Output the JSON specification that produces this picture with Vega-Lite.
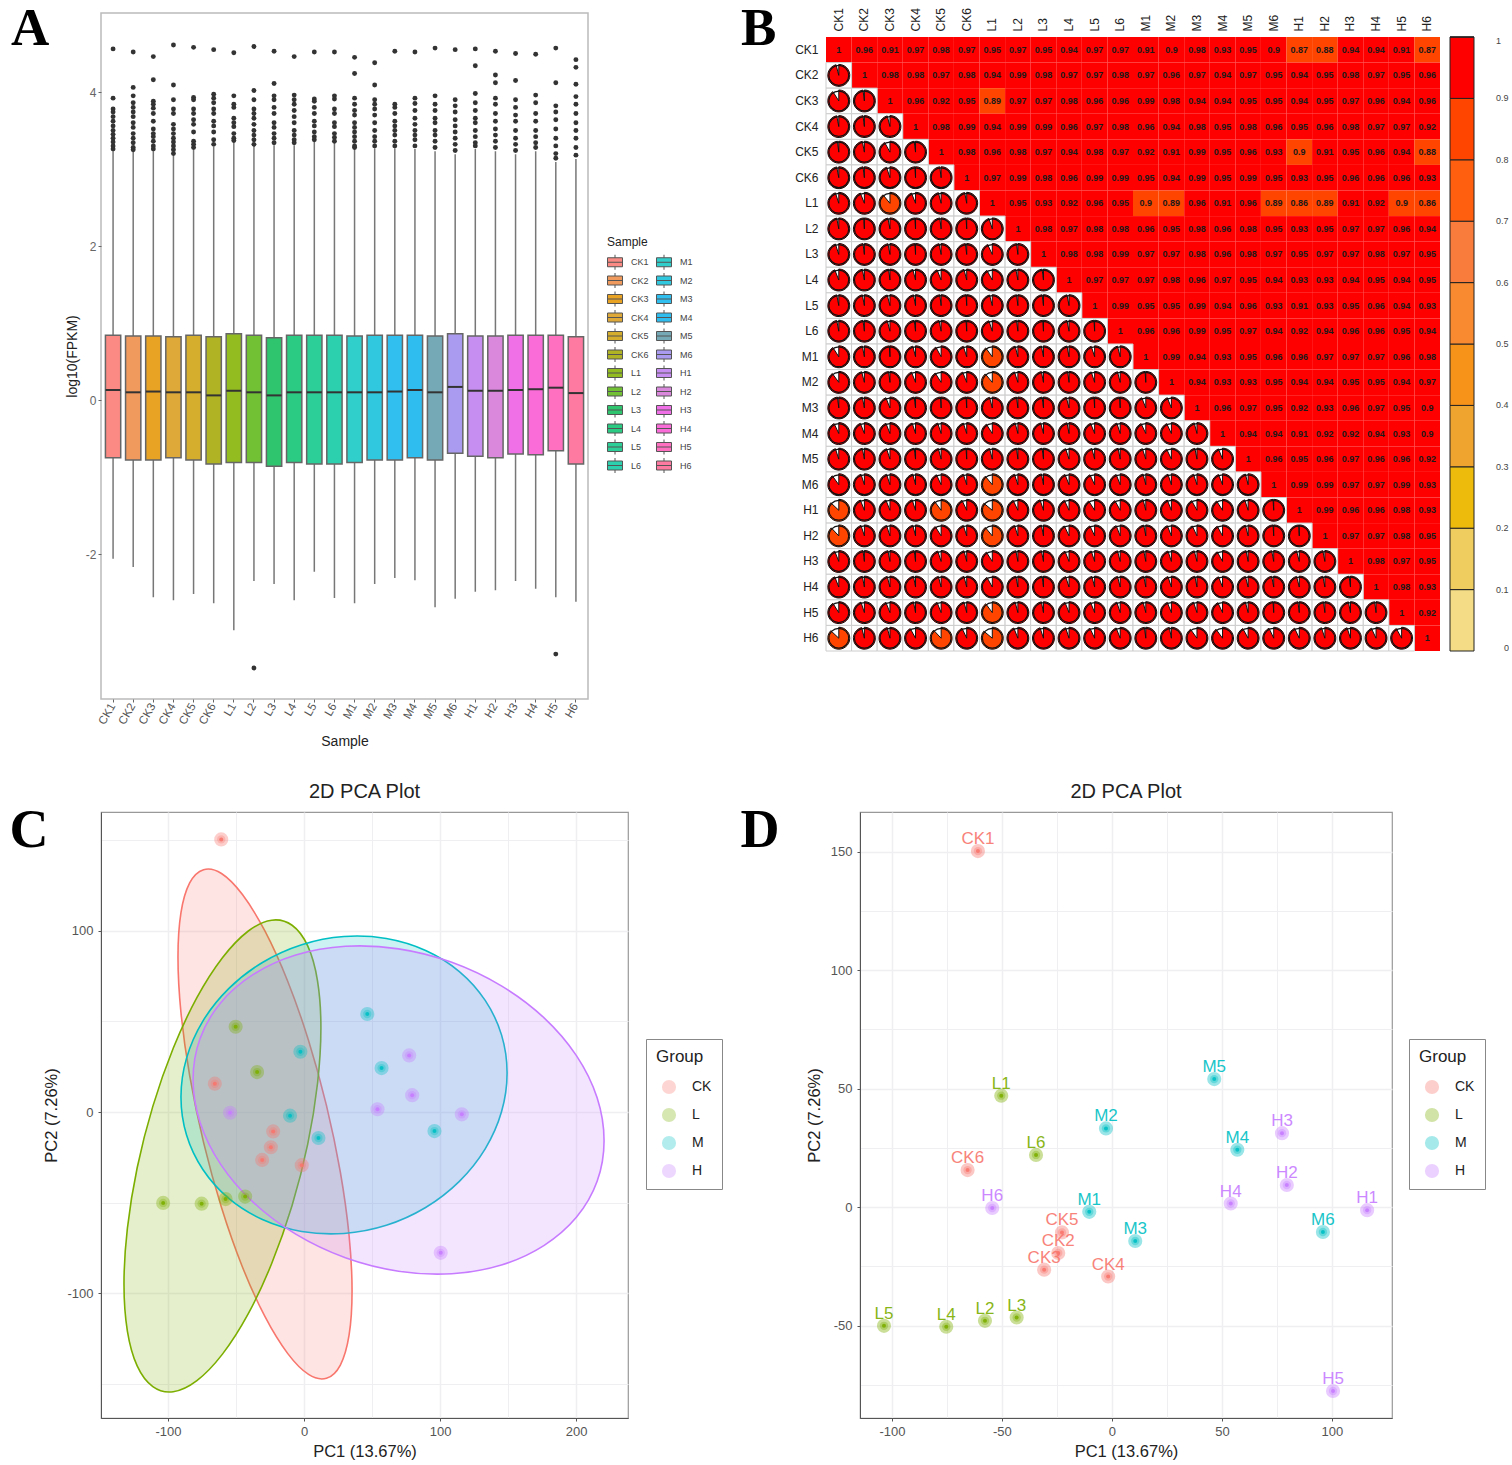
{"$schema":"https://vega.github.io/schema/vega-lite/v6.json","padding":{"left":8,"top":2,"right":0,"bottom":0},"background":"white","config":{"font":"Liberation Sans","view":{"stroke":null}},"spacing":32,"bounds":"full","resolve":{"scale":{"color":"independent"},"legend":{"color":"independent"}},"datasets":{"box":[{"s":"CK1","lo":-2.06,"q1":-0.75,"m":0.13,"q3":0.84,"hi":3.23},{"s":"CK2","lo":-2.17,"q1":-0.78,"m":0.10,"q3":0.83,"hi":3.22},{"s":"CK3","lo":-2.56,"q1":-0.78,"m":0.11,"q3":0.83,"hi":3.23},{"s":"CK4","lo":-2.60,"q1":-0.75,"m":0.10,"q3":0.82,"hi":3.18},{"s":"CK5","lo":-2.52,"q1":-0.78,"m":0.10,"q3":0.84,"hi":3.25},{"s":"CK6","lo":-2.64,"q1":-0.83,"m":0.06,"q3":0.82,"hi":3.29},{"s":"L1","lo":-2.99,"q1":-0.81,"m":0.12,"q3":0.86,"hi":3.35},{"s":"L2","lo":-2.35,"q1":-0.81,"m":0.10,"q3":0.84,"hi":3.30},{"s":"L3","lo":-2.39,"q1":-0.86,"m":0.06,"q3":0.81,"hi":3.31},{"s":"L4","lo":-2.60,"q1":-0.81,"m":0.10,"q3":0.84,"hi":3.31},{"s":"L5","lo":-2.23,"q1":-0.83,"m":0.10,"q3":0.84,"hi":3.35},{"s":"L6","lo":-2.57,"q1":-0.83,"m":0.10,"q3":0.84,"hi":3.35},{"s":"M1","lo":-2.64,"q1":-0.81,"m":0.10,"q3":0.83,"hi":3.26},{"s":"M2","lo":-2.39,"q1":-0.78,"m":0.10,"q3":0.84,"hi":3.27},{"s":"M3","lo":-2.31,"q1":-0.78,"m":0.11,"q3":0.84,"hi":3.27},{"s":"M4","lo":-2.34,"q1":-0.75,"m":0.13,"q3":0.84,"hi":3.26},{"s":"M5","lo":-2.69,"q1":-0.78,"m":0.10,"q3":0.83,"hi":3.23},{"s":"M6","lo":-2.58,"q1":-0.69,"m":0.17,"q3":0.86,"hi":3.19},{"s":"H1","lo":-2.49,"q1":-0.73,"m":0.12,"q3":0.83,"hi":3.26},{"s":"H2","lo":-2.47,"q1":-0.75,"m":0.12,"q3":0.83,"hi":3.23},{"s":"H3","lo":-2.35,"q1":-0.70,"m":0.13,"q3":0.84,"hi":3.19},{"s":"H4","lo":-2.45,"q1":-0.71,"m":0.14,"q3":0.84,"hi":3.23},{"s":"H5","lo":-2.56,"q1":-0.66,"m":0.16,"q3":0.84,"hi":3.09},{"s":"H6","lo":-2.62,"q1":-0.83,"m":0.09,"q3":0.82,"hi":3.13}],
"out":[{"s":"CK1","v":4.56},{"s":"CK1","v":3.92},{"s":"CK1","v":3.78},{"s":"CK1","v":3.74},{"s":"CK1","v":3.68},{"s":"CK1","v":3.62},{"s":"CK1","v":3.56},{"s":"CK1","v":3.5},{"s":"CK1","v":3.45},{"s":"CK1","v":3.4},{"s":"CK1","v":3.35},{"s":"CK1","v":3.3},{"s":"CK1","v":3.26},
{"s":"CK2","v":4.52},{"s":"CK2","v":4.06},{"s":"CK2","v":3.95},{"s":"CK2","v":3.86},{"s":"CK2","v":3.8},{"s":"CK2","v":3.74},{"s":"CK2","v":3.68},{"s":"CK2","v":3.6},{"s":"CK2","v":3.54},{"s":"CK2","v":3.46},{"s":"CK2","v":3.4},{"s":"CK2","v":3.34},{"s":"CK2","v":3.28},{"s":"CK2","v":3.25},
{"s":"CK3","v":4.46},{"s":"CK3","v":4.16},{"s":"CK3","v":3.88},{"s":"CK3","v":3.84},{"s":"CK3","v":3.79},{"s":"CK3","v":3.72},{"s":"CK3","v":3.62},{"s":"CK3","v":3.52},{"s":"CK3","v":3.46},{"s":"CK3","v":3.42},{"s":"CK3","v":3.36},{"s":"CK3","v":3.3},{"s":"CK3","v":3.26},
{"s":"CK4","v":4.61},{"s":"CK4","v":4.09},{"s":"CK4","v":3.9},{"s":"CK4","v":3.78},{"s":"CK4","v":3.72},{"s":"CK4","v":3.58},{"s":"CK4","v":3.52},{"s":"CK4","v":3.46},{"s":"CK4","v":3.4},{"s":"CK4","v":3.35},{"s":"CK4","v":3.3},{"s":"CK4","v":3.25},{"s":"CK4","v":3.2},
{"s":"CK5","v":4.58},{"s":"CK5","v":3.93},{"s":"CK5","v":3.9},{"s":"CK5","v":3.78},{"s":"CK5","v":3.72},{"s":"CK5","v":3.64},{"s":"CK5","v":3.58},{"s":"CK5","v":3.48},{"s":"CK5","v":3.36},{"s":"CK5","v":3.32},{"s":"CK5","v":3.28},
{"s":"CK6","v":4.55},{"s":"CK6","v":3.97},{"s":"CK6","v":3.92},{"s":"CK6","v":3.86},{"s":"CK6","v":3.78},{"s":"CK6","v":3.72},{"s":"CK6","v":3.62},{"s":"CK6","v":3.56},{"s":"CK6","v":3.48},{"s":"CK6","v":3.38},{"s":"CK6","v":3.32},
{"s":"L1","v":4.51},{"s":"L1","v":3.95},{"s":"L1","v":3.84},{"s":"L1","v":3.8},{"s":"L1","v":3.66},{"s":"L1","v":3.6},{"s":"L1","v":3.55},{"s":"L1","v":3.46},{"s":"L1","v":3.4},{"s":"L1","v":3.37},
{"s":"L2","v":4.59},{"s":"L2","v":4.02},{"s":"L2","v":3.9},{"s":"L2","v":3.78},{"s":"L2","v":3.72},{"s":"L2","v":3.66},{"s":"L2","v":3.58},{"s":"L2","v":3.5},{"s":"L2","v":3.44},{"s":"L2","v":3.38},{"s":"L2","v":3.32},{"s":"L2","v":-3.48},
{"s":"L3","v":4.53},{"s":"L3","v":4.11},{"s":"L3","v":3.95},{"s":"L3","v":3.9},{"s":"L3","v":3.8},{"s":"L3","v":3.72},{"s":"L3","v":3.6},{"s":"L3","v":3.54},{"s":"L3","v":3.46},{"s":"L3","v":3.4},{"s":"L3","v":3.34},
{"s":"L4","v":4.46},{"s":"L4","v":3.96},{"s":"L4","v":3.9},{"s":"L4","v":3.84},{"s":"L4","v":3.76},{"s":"L4","v":3.68},{"s":"L4","v":3.6},{"s":"L4","v":3.5},{"s":"L4","v":3.44},{"s":"L4","v":3.38},{"s":"L4","v":3.34},
{"s":"L5","v":4.52},{"s":"L5","v":3.91},{"s":"L5","v":3.88},{"s":"L5","v":3.8},{"s":"L5","v":3.72},{"s":"L5","v":3.62},{"s":"L5","v":3.56},{"s":"L5","v":3.48},{"s":"L5","v":3.42},{"s":"L5","v":3.38},
{"s":"L6","v":4.52},{"s":"L6","v":3.95},{"s":"L6","v":3.91},{"s":"L6","v":3.78},{"s":"L6","v":3.72},{"s":"L6","v":3.6},{"s":"L6","v":3.55},{"s":"L6","v":3.46},{"s":"L6","v":3.41},{"s":"L6","v":3.36},
{"s":"M1","v":4.45},{"s":"M1","v":4.24},{"s":"M1","v":3.92},{"s":"M1","v":3.84},{"s":"M1","v":3.76},{"s":"M1","v":3.7},{"s":"M1","v":3.6},{"s":"M1","v":3.54},{"s":"M1","v":3.48},{"s":"M1","v":3.42},{"s":"M1","v":3.36},{"s":"M1","v":3.3},{"s":"M1","v":3.28},
{"s":"M2","v":4.38},{"s":"M2","v":4.09},{"s":"M2","v":3.9},{"s":"M2","v":3.84},{"s":"M2","v":3.78},{"s":"M2","v":3.7},{"s":"M2","v":3.6},{"s":"M2","v":3.5},{"s":"M2","v":3.42},{"s":"M2","v":3.36},{"s":"M2","v":3.3},
{"s":"M3","v":4.53},{"s":"M3","v":3.84},{"s":"M3","v":3.8},{"s":"M3","v":3.72},{"s":"M3","v":3.62},{"s":"M3","v":3.56},{"s":"M3","v":3.5},{"s":"M3","v":3.44},{"s":"M3","v":3.36},{"s":"M3","v":3.3},
{"s":"M4","v":4.52},{"s":"M4","v":3.92},{"s":"M4","v":3.85},{"s":"M4","v":3.76},{"s":"M4","v":3.66},{"s":"M4","v":3.58},{"s":"M4","v":3.5},{"s":"M4","v":3.44},{"s":"M4","v":3.38},{"s":"M4","v":3.3},
{"s":"M5","v":4.57},{"s":"M5","v":3.95},{"s":"M5","v":3.84},{"s":"M5","v":3.76},{"s":"M5","v":3.66},{"s":"M5","v":3.6},{"s":"M5","v":3.5},{"s":"M5","v":3.44},{"s":"M5","v":3.36},{"s":"M5","v":3.28},
{"s":"M6","v":4.55},{"s":"M6","v":3.9},{"s":"M6","v":3.82},{"s":"M6","v":3.74},{"s":"M6","v":3.64},{"s":"M6","v":3.56},{"s":"M6","v":3.48},{"s":"M6","v":3.4},{"s":"M6","v":3.32},{"s":"M6","v":3.24},
{"s":"H1","v":4.56},{"s":"H1","v":4.34},{"s":"H1","v":3.98},{"s":"H1","v":3.86},{"s":"H1","v":3.76},{"s":"H1","v":3.66},{"s":"H1","v":3.6},{"s":"H1","v":3.5},{"s":"H1","v":3.42},{"s":"H1","v":3.34},{"s":"H1","v":3.3},
{"s":"H2","v":4.53},{"s":"H2","v":4.22},{"s":"H2","v":4.12},{"s":"H2","v":3.92},{"s":"H2","v":3.84},{"s":"H2","v":3.72},{"s":"H2","v":3.62},{"s":"H2","v":3.52},{"s":"H2","v":3.44},{"s":"H2","v":3.36},{"s":"H2","v":3.28},
{"s":"H3","v":4.5},{"s":"H3","v":4.15},{"s":"H3","v":3.9},{"s":"H3","v":3.8},{"s":"H3","v":3.7},{"s":"H3","v":3.62},{"s":"H3","v":3.5},{"s":"H3","v":3.4},{"s":"H3","v":3.32},{"s":"H3","v":3.24},
{"s":"H4","v":4.49},{"s":"H4","v":3.96},{"s":"H4","v":3.86},{"s":"H4","v":3.72},{"s":"H4","v":3.62},{"s":"H4","v":3.5},{"s":"H4","v":3.42},{"s":"H4","v":3.34},{"s":"H4","v":3.28},
{"s":"H5","v":4.57},{"s":"H5","v":4.12},{"s":"H5","v":3.82},{"s":"H5","v":3.74},{"s":"H5","v":3.64},{"s":"H5","v":3.52},{"s":"H5","v":3.4},{"s":"H5","v":3.3},{"s":"H5","v":3.2},{"s":"H5","v":3.14},{"s":"H5","v":-3.3},
{"s":"H6","v":4.42},{"s":"H6","v":4.32},{"s":"H6","v":4.1},{"s":"H6","v":3.94},{"s":"H6","v":3.84},{"s":"H6","v":3.72},{"s":"H6","v":3.6},{"s":"H6","v":3.5},{"s":"H6","v":3.4},{"s":"H6","v":3.28},{"s":"H6","v":3.18}],
"corr":[
{"a":"CK1","b":"CK1","r":1},{"a":"CK1","b":"CK2","r":0.96},{"a":"CK1","b":"CK3","r":0.91},{"a":"CK1","b":"CK4","r":0.97},{"a":"CK1","b":"CK5","r":0.98},{"a":"CK1","b":"CK6","r":0.97},{"a":"CK1","b":"L1","r":0.95},{"a":"CK1","b":"L2","r":0.97},{"a":"CK1","b":"L3","r":0.95},{"a":"CK1","b":"L4","r":0.94},{"a":"CK1","b":"L5","r":0.97},{"a":"CK1","b":"L6","r":0.97},{"a":"CK1","b":"M1","r":0.91},{"a":"CK1","b":"M2","r":0.9},{"a":"CK1","b":"M3","r":0.98},{"a":"CK1","b":"M4","r":0.93},{"a":"CK1","b":"M5","r":0.95},{"a":"CK1","b":"M6","r":0.9},{"a":"CK1","b":"H1","r":0.87},{"a":"CK1","b":"H2","r":0.88},{"a":"CK1","b":"H3","r":0.94},{"a":"CK1","b":"H4","r":0.94},{"a":"CK1","b":"H5","r":0.91},{"a":"CK1","b":"H6","r":0.87},
{"a":"CK2","b":"CK2","r":1},{"a":"CK2","b":"CK3","r":0.98},{"a":"CK2","b":"CK4","r":0.98},{"a":"CK2","b":"CK5","r":0.97},{"a":"CK2","b":"CK6","r":0.98},{"a":"CK2","b":"L1","r":0.94},{"a":"CK2","b":"L2","r":0.99},{"a":"CK2","b":"L3","r":0.98},{"a":"CK2","b":"L4","r":0.97},{"a":"CK2","b":"L5","r":0.97},{"a":"CK2","b":"L6","r":0.98},{"a":"CK2","b":"M1","r":0.97},{"a":"CK2","b":"M2","r":0.96},{"a":"CK2","b":"M3","r":0.97},{"a":"CK2","b":"M4","r":0.94},{"a":"CK2","b":"M5","r":0.97},{"a":"CK2","b":"M6","r":0.95},{"a":"CK2","b":"H1","r":0.94},{"a":"CK2","b":"H2","r":0.95},{"a":"CK2","b":"H3","r":0.98},{"a":"CK2","b":"H4","r":0.97},{"a":"CK2","b":"H5","r":0.95},{"a":"CK2","b":"H6","r":0.96},
{"a":"CK3","b":"CK3","r":1},{"a":"CK3","b":"CK4","r":0.96},{"a":"CK3","b":"CK5","r":0.92},{"a":"CK3","b":"CK6","r":0.95},{"a":"CK3","b":"L1","r":0.89},{"a":"CK3","b":"L2","r":0.97},{"a":"CK3","b":"L3","r":0.97},{"a":"CK3","b":"L4","r":0.98},{"a":"CK3","b":"L5","r":0.96},{"a":"CK3","b":"L6","r":0.96},{"a":"CK3","b":"M1","r":0.99},{"a":"CK3","b":"M2","r":0.98},{"a":"CK3","b":"M3","r":0.94},{"a":"CK3","b":"M4","r":0.94},{"a":"CK3","b":"M5","r":0.95},{"a":"CK3","b":"M6","r":0.95},{"a":"CK3","b":"H1","r":0.94},{"a":"CK3","b":"H2","r":0.95},{"a":"CK3","b":"H3","r":0.97},{"a":"CK3","b":"H4","r":0.96},{"a":"CK3","b":"H5","r":0.94},{"a":"CK3","b":"H6","r":0.96},
{"a":"CK4","b":"CK4","r":1},{"a":"CK4","b":"CK5","r":0.98},{"a":"CK4","b":"CK6","r":0.99},{"a":"CK4","b":"L1","r":0.94},{"a":"CK4","b":"L2","r":0.99},{"a":"CK4","b":"L3","r":0.99},{"a":"CK4","b":"L4","r":0.96},{"a":"CK4","b":"L5","r":0.97},{"a":"CK4","b":"L6","r":0.98},{"a":"CK4","b":"M1","r":0.96},{"a":"CK4","b":"M2","r":0.94},{"a":"CK4","b":"M3","r":0.98},{"a":"CK4","b":"M4","r":0.95},{"a":"CK4","b":"M5","r":0.98},{"a":"CK4","b":"M6","r":0.96},{"a":"CK4","b":"H1","r":0.95},{"a":"CK4","b":"H2","r":0.96},{"a":"CK4","b":"H3","r":0.98},{"a":"CK4","b":"H4","r":0.97},{"a":"CK4","b":"H5","r":0.97},{"a":"CK4","b":"H6","r":0.92},
{"a":"CK5","b":"CK5","r":1},{"a":"CK5","b":"CK6","r":0.98},{"a":"CK5","b":"L1","r":0.96},{"a":"CK5","b":"L2","r":0.98},{"a":"CK5","b":"L3","r":0.97},{"a":"CK5","b":"L4","r":0.94},{"a":"CK5","b":"L5","r":0.98},{"a":"CK5","b":"L6","r":0.97},{"a":"CK5","b":"M1","r":0.92},{"a":"CK5","b":"M2","r":0.91},{"a":"CK5","b":"M3","r":0.99},{"a":"CK5","b":"M4","r":0.95},{"a":"CK5","b":"M5","r":0.96},{"a":"CK5","b":"M6","r":0.93},{"a":"CK5","b":"H1","r":0.899},{"a":"CK5","b":"H2","r":0.91},{"a":"CK5","b":"H3","r":0.95},{"a":"CK5","b":"H4","r":0.96},{"a":"CK5","b":"H5","r":0.94},{"a":"CK5","b":"H6","r":0.88},
{"a":"CK6","b":"CK6","r":1},{"a":"CK6","b":"L1","r":0.97},{"a":"CK6","b":"L2","r":0.99},{"a":"CK6","b":"L3","r":0.98},{"a":"CK6","b":"L4","r":0.96},{"a":"CK6","b":"L5","r":0.99},{"a":"CK6","b":"L6","r":0.99},{"a":"CK6","b":"M1","r":0.95},{"a":"CK6","b":"M2","r":0.94},{"a":"CK6","b":"M3","r":0.99},{"a":"CK6","b":"M4","r":0.95},{"a":"CK6","b":"M5","r":0.99},{"a":"CK6","b":"M6","r":0.95},{"a":"CK6","b":"H1","r":0.93},{"a":"CK6","b":"H2","r":0.95},{"a":"CK6","b":"H3","r":0.96},{"a":"CK6","b":"H4","r":0.96},{"a":"CK6","b":"H5","r":0.96},{"a":"CK6","b":"H6","r":0.93},
{"a":"L1","b":"L1","r":1},{"a":"L1","b":"L2","r":0.95},{"a":"L1","b":"L3","r":0.93},{"a":"L1","b":"L4","r":0.92},{"a":"L1","b":"L5","r":0.96},{"a":"L1","b":"L6","r":0.95},{"a":"L1","b":"M1","r":0.899},{"a":"L1","b":"M2","r":0.89},{"a":"L1","b":"M3","r":0.96},{"a":"L1","b":"M4","r":0.91},{"a":"L1","b":"M5","r":0.96},{"a":"L1","b":"M6","r":0.89},{"a":"L1","b":"H1","r":0.86},{"a":"L1","b":"H2","r":0.89},{"a":"L1","b":"H3","r":0.91},{"a":"L1","b":"H4","r":0.92},{"a":"L1","b":"H5","r":0.899},{"a":"L1","b":"H6","r":0.86},
{"a":"L2","b":"L2","r":1},{"a":"L2","b":"L3","r":0.98},{"a":"L2","b":"L4","r":0.97},{"a":"L2","b":"L5","r":0.98},{"a":"L2","b":"L6","r":0.98},{"a":"L2","b":"M1","r":0.96},{"a":"L2","b":"M2","r":0.95},{"a":"L2","b":"M3","r":0.98},{"a":"L2","b":"M4","r":0.96},{"a":"L2","b":"M5","r":0.98},{"a":"L2","b":"M6","r":0.95},{"a":"L2","b":"H1","r":0.93},{"a":"L2","b":"H2","r":0.95},{"a":"L2","b":"H3","r":0.97},{"a":"L2","b":"H4","r":0.97},{"a":"L2","b":"H5","r":0.96},{"a":"L2","b":"H6","r":0.94},
{"a":"L3","b":"L3","r":1},{"a":"L3","b":"L4","r":0.98},{"a":"L3","b":"L5","r":0.98},{"a":"L3","b":"L6","r":0.99},{"a":"L3","b":"M1","r":0.97},{"a":"L3","b":"M2","r":0.97},{"a":"L3","b":"M3","r":0.98},{"a":"L3","b":"M4","r":0.96},{"a":"L3","b":"M5","r":0.98},{"a":"L3","b":"M6","r":0.97},{"a":"L3","b":"H1","r":0.95},{"a":"L3","b":"H2","r":0.97},{"a":"L3","b":"H3","r":0.97},{"a":"L3","b":"H4","r":0.98},{"a":"L3","b":"H5","r":0.97},{"a":"L3","b":"H6","r":0.95},
{"a":"L4","b":"L4","r":1},{"a":"L4","b":"L5","r":0.97},{"a":"L4","b":"L6","r":0.97},{"a":"L4","b":"M1","r":0.97},{"a":"L4","b":"M2","r":0.98},{"a":"L4","b":"M3","r":0.96},{"a":"L4","b":"M4","r":0.97},{"a":"L4","b":"M5","r":0.95},{"a":"L4","b":"M6","r":0.94},{"a":"L4","b":"H1","r":0.93},{"a":"L4","b":"H2","r":0.93},{"a":"L4","b":"H3","r":0.94},{"a":"L4","b":"H4","r":0.95},{"a":"L4","b":"H5","r":0.94},{"a":"L4","b":"H6","r":0.95},
{"a":"L5","b":"L5","r":1},{"a":"L5","b":"L6","r":0.99},{"a":"L5","b":"M1","r":0.95},{"a":"L5","b":"M2","r":0.95},{"a":"L5","b":"M3","r":0.99},{"a":"L5","b":"M4","r":0.94},{"a":"L5","b":"M5","r":0.96},{"a":"L5","b":"M6","r":0.93},{"a":"L5","b":"H1","r":0.91},{"a":"L5","b":"H2","r":0.93},{"a":"L5","b":"H3","r":0.95},{"a":"L5","b":"H4","r":0.96},{"a":"L5","b":"H5","r":0.94},{"a":"L5","b":"H6","r":0.93},
{"a":"L6","b":"L6","r":1},{"a":"L6","b":"M1","r":0.96},{"a":"L6","b":"M2","r":0.96},{"a":"L6","b":"M3","r":0.99},{"a":"L6","b":"M4","r":0.95},{"a":"L6","b":"M5","r":0.97},{"a":"L6","b":"M6","r":0.94},{"a":"L6","b":"H1","r":0.92},{"a":"L6","b":"H2","r":0.94},{"a":"L6","b":"H3","r":0.96},{"a":"L6","b":"H4","r":0.96},{"a":"L6","b":"H5","r":0.95},{"a":"L6","b":"H6","r":0.94},
{"a":"M1","b":"M1","r":1},{"a":"M1","b":"M2","r":0.99},{"a":"M1","b":"M3","r":0.94},{"a":"M1","b":"M4","r":0.93},{"a":"M1","b":"M5","r":0.95},{"a":"M1","b":"M6","r":0.96},{"a":"M1","b":"H1","r":0.96},{"a":"M1","b":"H2","r":0.97},{"a":"M1","b":"H3","r":0.97},{"a":"M1","b":"H4","r":0.97},{"a":"M1","b":"H5","r":0.96},{"a":"M1","b":"H6","r":0.98},
{"a":"M2","b":"M2","r":1},{"a":"M2","b":"M3","r":0.94},{"a":"M2","b":"M4","r":0.93},{"a":"M2","b":"M5","r":0.93},{"a":"M2","b":"M6","r":0.95},{"a":"M2","b":"H1","r":0.94},{"a":"M2","b":"H2","r":0.94},{"a":"M2","b":"H3","r":0.95},{"a":"M2","b":"H4","r":0.95},{"a":"M2","b":"H5","r":0.94},{"a":"M2","b":"H6","r":0.97},
{"a":"M3","b":"M3","r":1},{"a":"M3","b":"M4","r":0.96},{"a":"M3","b":"M5","r":0.97},{"a":"M3","b":"M6","r":0.95},{"a":"M3","b":"H1","r":0.92},{"a":"M3","b":"H2","r":0.93},{"a":"M3","b":"H3","r":0.96},{"a":"M3","b":"H4","r":0.97},{"a":"M3","b":"H5","r":0.95},{"a":"M3","b":"H6","r":0.9},
{"a":"M4","b":"M4","r":1},{"a":"M4","b":"M5","r":0.94},{"a":"M4","b":"M6","r":0.94},{"a":"M4","b":"H1","r":0.91},{"a":"M4","b":"H2","r":0.92},{"a":"M4","b":"H3","r":0.92},{"a":"M4","b":"H4","r":0.94},{"a":"M4","b":"H5","r":0.93},{"a":"M4","b":"H6","r":0.9},
{"a":"M5","b":"M5","r":1},{"a":"M5","b":"M6","r":0.96},{"a":"M5","b":"H1","r":0.95},{"a":"M5","b":"H2","r":0.96},{"a":"M5","b":"H3","r":0.97},{"a":"M5","b":"H4","r":0.96},{"a":"M5","b":"H5","r":0.96},{"a":"M5","b":"H6","r":0.92},
{"a":"M6","b":"M6","r":1},{"a":"M6","b":"H1","r":0.99},{"a":"M6","b":"H2","r":0.99},{"a":"M6","b":"H3","r":0.97},{"a":"M6","b":"H4","r":0.97},{"a":"M6","b":"H5","r":0.99},{"a":"M6","b":"H6","r":0.93},
{"a":"H1","b":"H1","r":1},{"a":"H1","b":"H2","r":0.99},{"a":"H1","b":"H3","r":0.96},{"a":"H1","b":"H4","r":0.96},{"a":"H1","b":"H5","r":0.98},{"a":"H1","b":"H6","r":0.93},
{"a":"H2","b":"H2","r":1},{"a":"H2","b":"H3","r":0.97},{"a":"H2","b":"H4","r":0.97},{"a":"H2","b":"H5","r":0.98},{"a":"H2","b":"H6","r":0.95},
{"a":"H3","b":"H3","r":1},{"a":"H3","b":"H4","r":0.98},{"a":"H3","b":"H5","r":0.97},{"a":"H3","b":"H6","r":0.95},
{"a":"H4","b":"H4","r":1},{"a":"H4","b":"H5","r":0.98},{"a":"H4","b":"H6","r":0.93},
{"a":"H5","b":"H5","r":1},{"a":"H5","b":"H6","r":0.92},
{"a":"H6","b":"H6","r":1}],
"pca":[{"s":"CK1","g":"CK","x":-60.9,"y":150.2},{"s":"CK2","g":"CK","x":-24.4,"y":-19.4},{"s":"CK3","g":"CK","x":-30.8,"y":-26.4},{"s":"CK4","g":"CK","x":-1.7,"y":-29.3},{"s":"CK5","g":"CK","x":-22.7,"y":-10.7},{"s":"CK6","g":"CK","x":-65.6,"y":15.6},{"s":"L1","g":"L","x":-50.3,"y":47},{"s":"L2","g":"L","x":-57.7,"y":-48},{"s":"L3","g":"L","x":-43.3,"y":-46.6},{"s":"L4","g":"L","x":-75.3,"y":-50.5},{"s":"L5","g":"L","x":-103.6,"y":-50.1},{"s":"L6","g":"L","x":-34.5,"y":22},{"s":"M1","g":"M","x":-10.3,"y":-2},{"s":"M2","g":"M","x":-2.7,"y":33.2},{"s":"M3","g":"M","x":10.6,"y":-14.3},{"s":"M4","g":"M","x":57,"y":24.2},{"s":"M5","g":"M","x":46.5,"y":54},{"s":"M6","g":"M","x":95.9,"y":-10.5},{"s":"H1","g":"H","x":116,"y":-1.3},{"s":"H2","g":"H","x":79.5,"y":9.3},{"s":"H3","g":"H","x":77.3,"y":31.2},{"s":"H4","g":"H","x":54,"y":1.5},{"s":"H5","g":"H","x":100.5,"y":-77.6},{"s":"H6","g":"H","x":-54.4,"y":-0.4}],
"ell":[{"g":"CK","i":0,"x":35.3,"y":-98.6},{"g":"CK","i":1,"x":33.1,"y":-68},{"g":"CK","i":2,"x":26.7,"y":-33.2},{"g":"CK","i":3,"x":16.5,"y":3.5},{"g":"CK","i":4,"x":3.3,"y":39.4},{"g":"CK","i":5,"x":-12.1,"y":72.2},{"g":"CK","i":6,"x":-28.7,"y":99.6},{"g":"CK","i":7,"x":-45.3,"y":119.8},{"g":"CK","i":8,"x":-60.7,"y":131.4},{"g":"CK","i":9,"x":-73.9,"y":133.5},{"g":"CK","i":10,"x":-84.1,"y":126.2},{"g":"CK","i":11,"x":-90.5,"y":109.8},{"g":"CK","i":12,"x":-92.7,"y":85.4},{"g":"CK","i":13,"x":-90.5,"y":54.8},{"g":"CK","i":14,"x":-84.1,"y":20},{"g":"CK","i":15,"x":-73.9,"y":-16.7},{"g":"CK","i":16,"x":-60.7,"y":-52.6},{"g":"CK","i":17,"x":-45.3,"y":-85.4},{"g":"CK","i":18,"x":-28.7,"y":-112.8},{"g":"CK","i":19,"x":-12.1,"y":-133},{"g":"CK","i":20,"x":3.3,"y":-144.6},{"g":"CK","i":21,"x":16.5,"y":-146.7},{"g":"CK","i":22,"x":26.7,"y":-139.4},{"g":"CK","i":23,"x":33.1,"y":-123},
{"g":"L","i":0,"x":12.4,"y":46.4},{"g":"L","i":1,"x":9.9,"y":72.3},{"g":"L","i":2,"x":2.7,"y":91.5},{"g":"L","i":3,"x":-8.8,"y":102.9},{"g":"L","i":4,"x":-23.8,"y":105.7},{"g":"L","i":5,"x":-41.2,"y":99.6},{"g":"L","i":6,"x":-60,"y":85},{"g":"L","i":7,"x":-78.8,"y":63},{"g":"L","i":8,"x":-96.2,"y":35.1},{"g":"L","i":9,"x":-111.2,"y":3.1},{"g":"L","i":10,"x":-122.7,"y":-30.7},{"g":"L","i":11,"x":-129.9,"y":-64.1},{"g":"L","i":12,"x":-132.4,"y":-94.8},{"g":"L","i":13,"x":-129.9,"y":-120.7},{"g":"L","i":14,"x":-122.7,"y":-139.9},{"g":"L","i":15,"x":-111.2,"y":-151.3},{"g":"L","i":16,"x":-96.2,"y":-154.1},{"g":"L","i":17,"x":-78.8,"y":-148},{"g":"L","i":18,"x":-60,"y":-133.4},{"g":"L","i":19,"x":-41.2,"y":-111.4},{"g":"L","i":20,"x":-23.8,"y":-83.5},{"g":"L","i":21,"x":-8.8,"y":-51.5},{"g":"L","i":22,"x":2.7,"y":-17.7},{"g":"L","i":23,"x":9.9,"y":15.7},
{"g":"M","i":0,"x":149.3,"y":21.5},{"g":"M","i":1,"x":145.2,"y":42.5},{"g":"M","i":2,"x":133.2,"y":61.5},{"g":"M","i":3,"x":114.2,"y":77.4},{"g":"M","i":4,"x":89.4,"y":89},{"g":"M","i":5,"x":60.5,"y":95.6},{"g":"M","i":6,"x":29.4,"y":96.7},{"g":"M","i":7,"x":-1.7,"y":92.2},{"g":"M","i":8,"x":-30.6,"y":82.4},{"g":"M","i":9,"x":-55.4,"y":68},{"g":"M","i":10,"x":-74.4,"y":50.1},{"g":"M","i":11,"x":-86.4,"y":29.7},{"g":"M","i":12,"x":-90.5,"y":8.3},{"g":"M","i":13,"x":-86.4,"y":-12.7},{"g":"M","i":14,"x":-74.4,"y":-31.7},{"g":"M","i":15,"x":-55.4,"y":-47.6},{"g":"M","i":16,"x":-30.6,"y":-59.2},{"g":"M","i":17,"x":-1.7,"y":-65.8},{"g":"M","i":18,"x":29.4,"y":-66.9},{"g":"M","i":19,"x":60.5,"y":-62.4},{"g":"M","i":20,"x":89.4,"y":-52.6},{"g":"M","i":21,"x":114.2,"y":-38.2},{"g":"M","i":22,"x":133.2,"y":-20.3},{"g":"M","i":23,"x":145.2,"y":0.1},
{"g":"H","i":0,"x":220.6,"y":-15.8},{"g":"H","i":1,"x":215.5,"y":7.8},{"g":"H","i":2,"x":200.4,"y":30.9},{"g":"H","i":3,"x":176.3,"y":52},{"g":"H","i":4,"x":145.1,"y":69.5},{"g":"H","i":5,"x":108.6,"y":82.5},{"g":"H","i":6,"x":69.5,"y":89.9},{"g":"H","i":7,"x":30.4,"y":91.3},{"g":"H","i":8,"x":-6.1,"y":86.5},{"g":"H","i":9,"x":-37.3,"y":75.8},{"g":"H","i":10,"x":-61.4,"y":60.1},{"g":"H","i":11,"x":-76.5,"y":40.4},{"g":"H","i":12,"x":-81.6,"y":18},{"g":"H","i":13,"x":-76.5,"y":-5.6},{"g":"H","i":14,"x":-61.4,"y":-28.7},{"g":"H","i":15,"x":-37.3,"y":-49.8},{"g":"H","i":16,"x":-6.1,"y":-67.3},{"g":"H","i":17,"x":30.4,"y":-80.3},{"g":"H","i":18,"x":69.5,"y":-87.7},{"g":"H","i":19,"x":108.6,"y":-89.1},{"g":"H","i":20,"x":145.1,"y":-84.3},{"g":"H","i":21,"x":176.3,"y":-73.6},{"g":"H","i":22,"x":200.4,"y":-57.9},{"g":"H","i":23,"x":215.5,"y":-38.2}]},
"vconcat":[
{"bounds":"flush","spacing":238,"resolve":{"scale":{"color":"independent"},"legend":{"color":"independent"}},"hconcat":[
{"width":487,"height":686,"view":{"stroke":"#bbbbbb","strokeWidth":1.5},
"title":{"text":"A","font":"Liberation Serif","fontWeight":"bold","fontSize":53,"anchor":"start","frame":"group","dx":-90,"dy":47,"color":"black"},
"encoding":{"x":{"field":"s","type":"nominal","scale":{"domain":["CK1","CK2","CK3","CK4","CK5","CK6","L1","L2","L3","L4","L5","L6","M1","M2","M3","M4","M5","M6","H1","H2","H3","H4","H5","H6"],"paddingInner":0,"paddingOuter":0.1},"axis":{"title":"Sample","labelAngle":-60,"labelFontSize":11.5,"labelColor":"#555555","tickColor":"#666666","tickSize":3,"domain":false,"titleFontSize":14,"titleFontWeight":"normal","titleColor":"#222222","titlePadding":8}}},
"layer":[
{"data":{"name":"box"},"mark":{"type":"rule","stroke":"#777777","strokeWidth":1.5},"encoding":{"y":{"field":"lo","type":"quantitative","scale":{"domain":[-3.883,5.026],"nice":false,"zero":false},"axis":{"title":"log10(FPKM)","values":[-2,0,2,4],"format":"d","labelExpr":"replace(datum.label,'−','-')","grid":false,"domain":false,"labelFontSize":12,"labelColor":"#666666","tickColor":"#666666","tickSize":3,"titleFontSize":14,"titleFontWeight":"normal","titleColor":"#222222","titlePadding":6}},"y2":{"field":"hi"}}},
{"data":{"name":"box"},"mark":{"type":"bar","stroke":"#666666","strokeWidth":1.5,"width":{"band":0.76}},"encoding":{"y":{"field":"q1","type":"quantitative"},"y2":{"field":"q3"},"color":{"field":"s","type":"nominal","scale":{"domain":["CK1","CK2","CK3","CK4","CK5","CK6","L1","L2","L3","L4","L5","L6","M1","M2","M3","M4","M5","M6","H1","H2","H3","H4","H5","H6"],"range":["#FA8A83","#F19A5D","#E8A224","#DFA93A","#D4AE2C","#B0B424","#93BC20","#72C034","#2FC46E","#2CCB84","#2DCF98","#2DD0AE","#30CFCB","#2FC8DE","#30BFEF","#2FBDF0","#75A9B5","#AB9BF0","#C58EF0","#D988DC","#F070E8","#FA6CD8","#FF70C0","#FF7AA0"]},"legend":{"title":"Sample","orient":"none","legendX":506,"legendY":224,"columns":2,"padding":0,"titleFontSize":12,"titleFontWeight":"normal","titleColor":"#222222","labelFontSize":9,"labelColor":"#444444","symbolType":"M-1,-0.6H1V0.6H-1Z M-1,0H1 M0,-0.6V-1 M0,0.6V1","symbolSize":225,"symbolStrokeColor":"#555555","symbolStrokeWidth":1,"symbolOpacity":1,"columnPadding":5,"rowPadding":-1.5,"labelOffset":8,"labelLimit":40}}}},
{"data":{"name":"box"},"mark":{"type":"tick","orient":"horizontal","color":"#333333","size":15,"thickness":2,"opacity":1},"encoding":{"y":{"field":"m","type":"quantitative"}}},
{"data":{"name":"out"},"mark":{"type":"circle","color":"#333333","size":24,"opacity":1},"encoding":{"y":{"field":"v","type":"quantitative"}}}]},
{"width":614,"height":686,
"title":{"text":"B","font":"Liberation Serif","fontWeight":"bold","fontSize":53,"anchor":"start","frame":"group","dx":-85,"dy":52,"color":"black"},
"data":{"name":"corr"},
"layer":[
{"mark":{"type":"rect"},"encoding":{"x":{"field":"b","type":"nominal","scale":{"domain":["CK1","CK2","CK3","CK4","CK5","CK6","L1","L2","L3","L4","L5","L6","M1","M2","M3","M4","M5","M6","H1","H2","H3","H4","H5","H6"],"paddingInner":0,"paddingOuter":0},"axis":{"orient":"top","offset":-24,"title":null,"labelAngle":-90,"labelFontSize":12,"labelColor":"#222222","ticks":false,"domain":false,"labelPadding":6,"labelAlign":"left","labelBaseline":"middle"}},"y":{"field":"a","type":"nominal","scale":{"domain":["CK1","CK2","CK3","CK4","CK5","CK6","L1","L2","L3","L4","L5","L6","M1","M2","M3","M4","M5","M6","H1","H2","H3","H4","H5","H6"],"range":[24,638],"paddingInner":0,"paddingOuter":0},"axis":{"title":null,"labelFontSize":12,"labelColor":"#222222","ticks":false,"domain":false,"labelPadding":8}},"color":{"field":"r","type":"quantitative","scale":{"type":"quantize","domain":[0,1],"range":["#F3DC85","#EFCE5F","#ECBB0C","#F0A430","#F8931A","#F98A30","#F97C3C","#FF5F0F","#FF4500","#FF0000"]},"legend":{"type":"gradient","title":"0","titleOrient":"bottom","titleAnchor":"end","titlePadding":-8,"titleFontSize":9,"titleFontWeight":"normal","titleColor":"#444444","orient":"none","legendX":624,"legendY":24,"padding":0,"direction":"vertical","gradientLength":614,"gradientThickness":24,"gradientStrokeColor":"#222222","gradientStrokeWidth":1,"values":[0,0.1,0.2,0.3,0.4,0.5,0.6,0.7,0.8,0.9,1],"format":".1~f","labelFontSize":9,"labelColor":"#444444","labelOffset":22,"labelOverlap":false,"labelBaseline":"middle"}}}},
{"mark":{"type":"text","fontSize":9,"fontWeight":"bold","color":"#1a1a1a"},"encoding":{"x":{"field":"b","type":"nominal"},"y":{"field":"a","type":"nominal"},"text":{"field":"r","type":"quantitative","format":".2~f"}}},
{"transform":[{"filter":"datum.a != datum.b"}],"mark":{"type":"rect","fill":"white","stroke":"#cccccc","strokeWidth":1},"encoding":{"x":{"field":"a","type":"nominal"},"y":{"field":"b","type":"nominal"}}},
{"transform":[{"filter":"datum.a != datum.b"}],"mark":{"type":"arc","outerRadius":11,"stroke":"#111111","strokeWidth":1},"encoding":{"x":{"field":"a","type":"nominal"},"y":{"field":"b","type":"nominal"},"theta":{"field":"r","type":"quantitative","stack":null,"scale":{"domain":[0,1],"range":[0,6.2832]}},"theta2":{"value":0},"color":{"field":"r","type":"quantitative","scale":{"type":"quantize","domain":[0,1],"range":["#F3DC85","#EFCE5F","#ECBB0C","#F0A430","#F8931A","#F98A30","#F97C3C","#FF5F0F","#FF4500","#FF0000"]},"legend":null}}},
{"transform":[{"filter":"datum.a != datum.b"}],"mark":{"type":"point","shape":"circle","size":394,"filled":false,"stroke":"#111111","strokeWidth":1.2,"opacity":1},"encoding":{"x":{"field":"a","type":"nominal"},"y":{"field":"b","type":"nominal"}}}]}]},
{"bounds":"flush","spacing":232,"resolve":{"scale":{"color":"independent"},"legend":{"color":"independent"}},"hconcat":[
{"width":527,"height":606,"view":{"stroke":"#999999","strokeWidth":1.2},
"title":{"text":"2D PCA Plot","fontSize":20,"fontWeight":"normal","color":"#222222","anchor":"middle","offset":2},
"layer":[
{"data":{"name":"ell"},"mark":{"type":"line","interpolate":"cardinal-closed","strokeWidth":1.6,"fillOpacity":0.2},"encoding":{"x":{"field":"x","type":"quantitative","scale":{"domain":[-149.3,238.2],"nice":false,"zero":false},"axis":{"title":"PC1 (13.67%)","values":[-100,-50,0,50,100,150,200],"labelExpr":"datum.value%100==0?replace(datum.label,'−','-'):''","tickOpacity":{"expr":"datum.value%100==0?1:0"},"gridColor":"#efeff2","gridWidth":{"expr":"datum.value%100==0?1.5:1"},"domainColor":"#555555","tickColor":"#555555","tickSize":3,"labelFontSize":13,"labelColor":"#555555","labelPadding":4,"titleFontSize":16.5,"titleFontWeight":"normal","titleColor":"#222222","titlePadding":5}},"y":{"field":"y","type":"quantitative","scale":{"domain":[-168.6,165.3],"nice":false,"zero":false},"axis":{"title":"PC2 (7.26%)","values":[-150,-100,-50,0,50,100,150],"labelExpr":"datum.value%100==0?replace(datum.label,'−','-'):''","tickOpacity":{"expr":"datum.value%100==0?1:0"},"gridColor":"#efeff2","gridWidth":{"expr":"datum.value%100==0?1.5:1"},"domainColor":"#555555","tickColor":"#555555","tickSize":3,"labelFontSize":13,"labelColor":"#555555","labelPadding":5,"titleFontSize":16.5,"titleFontWeight":"normal","titleColor":"#222222","titlePadding":7}},"order":{"field":"i","type":"quantitative"},"stroke":{"field":"g","type":"nominal","scale":{"domain":["CK","L","M","H"],"range":["#F8766D","#7CAE00","#00BFC4","#C77CFF"]},"legend":null},"fill":{"field":"g","type":"nominal","scale":{"domain":["CK","L","M","H"],"range":["#F8766D","#7CAE00","#00BFC4","#C77CFF"]},"legend":null}}},
{"data":{"name":"pca"},"mark":{"type":"circle","size":200,"opacity":0.35},"encoding":{"x":{"field":"x","type":"quantitative"},"y":{"field":"y","type":"quantitative"},"color":{"field":"g","type":"nominal","scale":{"domain":["CK","L","M","H"],"range":["#F8766D","#7CAE00","#00BFC4","#C77CFF"]},"legend":{"title":"Group","orient":"none","legendX":545,"legendY":227,"strokeColor":"#888888","padding":10,"titleFontSize":17,"titleFontWeight":"normal","titleColor":"#222222","titlePadding":13,"labelFontSize":14,"labelColor":"#222222","labelOffset":15,"symbolOffset":5,"symbolType":"circle","symbolSize":200,"symbolOpacity":0.55,"rowPadding":12}}}},
{"data":{"name":"pca"},"mark":{"type":"circle","size":70,"opacity":0.3},"encoding":{"x":{"field":"x","type":"quantitative"},"y":{"field":"y","type":"quantitative"},"color":{"field":"g","type":"nominal"}}},
{"data":{"name":"pca"},"mark":{"type":"circle","size":16,"opacity":0.9},"encoding":{"x":{"field":"x","type":"quantitative"},"y":{"field":"y","type":"quantitative"},"color":{"field":"g","type":"nominal"}}},
{"data":{"values":[{"t":"C"}]},"mark":{"type":"text","font":"Liberation Serif","fontWeight":"bold","fontSize":54,"color":"black"},"encoding":{"text":{"field":"t"},"x":{"datum":-202.3},"y":{"datum":154.8}}}]},
{"width":532,"height":606,"view":{"stroke":"#999999","strokeWidth":1.2},
"title":{"text":"2D PCA Plot","fontSize":20,"fontWeight":"normal","color":"#222222","anchor":"middle","offset":2},
"layer":[
{"data":{"name":"pca"},"mark":{"type":"circle","size":200,"opacity":0.4},"encoding":{"x":{"field":"x","type":"quantitative","scale":{"domain":[-114.5,127.3],"nice":false,"zero":false},"axis":{"title":"PC1 (13.67%)","values":[-100,-75,-50,-25,0,25,50,75,100],"labelExpr":"datum.value%50==0?replace(datum.label,'−','-'):''","tickOpacity":{"expr":"datum.value%50==0?1:0"},"gridColor":"#efeff2","gridWidth":{"expr":"datum.value%50==0?1.5:1"},"domainColor":"#555555","tickColor":"#555555","tickSize":3,"labelFontSize":13,"labelColor":"#555555","labelPadding":4,"titleFontSize":16.5,"titleFontWeight":"normal","titleColor":"#222222","titlePadding":5}},"y":{"field":"y","type":"quantitative","scale":{"domain":[-89,166.7],"nice":false,"zero":false},"axis":{"title":"PC2 (7.26%)","values":[-75,-50,-25,0,25,50,75,100,125,150],"labelExpr":"datum.value%50==0?replace(datum.label,'−','-'):''","tickOpacity":{"expr":"datum.value%50==0?1:0"},"gridColor":"#efeff2","gridWidth":{"expr":"datum.value%50==0?1.5:1"},"domainColor":"#555555","tickColor":"#555555","tickSize":3,"labelFontSize":13,"labelColor":"#555555","labelPadding":5,"titleFontSize":16.5,"titleFontWeight":"normal","titleColor":"#222222","titlePadding":8}},"color":{"field":"g","type":"nominal","scale":{"domain":["CK","L","M","H"],"range":["#F8766D","#7CAE00","#00BFC4","#C77CFF"]},"legend":{"title":"Group","orient":"none","legendX":549,"legendY":227,"strokeColor":"#888888","padding":10,"titleFontSize":17,"titleFontWeight":"normal","titleColor":"#222222","titlePadding":13,"labelFontSize":14,"labelColor":"#222222","labelOffset":15,"symbolOffset":5,"symbolType":"circle","symbolSize":200,"symbolOpacity":0.55,"rowPadding":12}}}},
{"data":{"name":"pca"},"mark":{"type":"circle","size":70,"opacity":0.35},"encoding":{"x":{"field":"x","type":"quantitative"},"y":{"field":"y","type":"quantitative"},"color":{"field":"g","type":"nominal"}}},
{"data":{"name":"pca"},"mark":{"type":"circle","size":16,"opacity":0.9},"encoding":{"x":{"field":"x","type":"quantitative"},"y":{"field":"y","type":"quantitative"},"color":{"field":"g","type":"nominal"}}},
{"data":{"name":"pca"},"mark":{"type":"text","fontSize":17,"dy":-12,"opacity":0.9},"encoding":{"x":{"field":"x","type":"quantitative"},"y":{"field":"y","type":"quantitative"},"text":{"field":"s"},"color":{"field":"g","type":"nominal"}}},
{"data":{"values":[{"t":"D"}]},"mark":{"type":"text","font":"Liberation Serif","fontWeight":"bold","fontSize":54,"color":"black"},"encoding":{"text":{"field":"t"},"x":{"datum":-160},"y":{"datum":158.6}}}]}]}
]}
